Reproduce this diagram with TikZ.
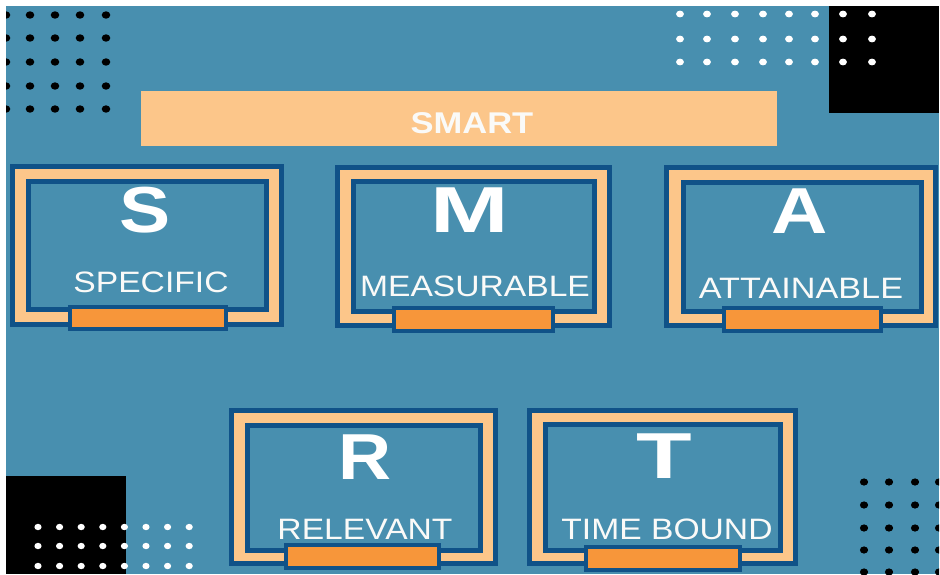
\documentclass[tikz,border=0pt]{standalone}
\usepackage{graphicx}
\usepackage{fontspec}
\setmainfont{Liberation Sans}
\definecolor{bgblue}{RGB}{72,143,175}
\definecolor{darkblue}{RGB}{16,82,136}
\definecolor{peach}{RGB}{252,198,138}
\definecolor{tabfill}{RGB}{247,150,58}
\definecolor{softwhite}{RGB}{250,250,248}
\newcommand\widen[2]{\scalebox{#1}[1]{#2}}
\tikzset{
  outerframe/.style={draw=darkblue, line width=5pt, fill=peach},
  innerframe/.style={draw=darkblue, line width=5pt, fill=bgblue},
  tabbar/.style={draw=darkblue, line width=4.5pt, fill=tabfill},
  bigletter/.style={text=white, inner sep=0pt, font=\fontsize{65}{65}\selectfont\bfseries},
  cardlabel/.style={text=softwhite, inner sep=0pt, font=\fontsize{29.5}{29.5}\selectfont},
  titletext/.style={text=softwhite, inner sep=0pt, font=\fontsize{30}{30}\selectfont\bfseries},
  blackdot/.style={fill=black},
  whitedot/.style={fill=white}
}
\begin{document}
\begin{tikzpicture}[x=1pt,y=-1pt]
\useasboundingbox (0,0) rectangle (940,574);
\fill[white] (0,0) rectangle (940,574);
\fill[bgblue] (6,6) rectangle (939,574);
\begin{scope}
  \clip (6,6) rectangle (939,574);
  % black squares
  \fill[black] (829,6) rectangle (939,113);
  \fill[black] (6,476) rectangle (126,574);
  % top-left black dots
  \foreach \x in {6,30,55,80,106}
    \foreach \y in {15,38,62,86,109}
      \fill[blackdot] (\x,\y) ellipse [x radius=4.3, y radius=3.7];
  % top-right white dots
  \foreach \x in {680,707,735,763,789,815,843,872}
    \foreach \y in {14,39,62}
      \fill[whitedot] (\x,\y) ellipse [x radius=3.9, y radius=3.4];
  % bottom-left white dots
  \foreach \i in {0,...,7}
    \foreach \y in {527,546,566}
      \fill[whitedot] ({38+21.6*\i},\y) ellipse [x radius=3.6, y radius=3.2];
  % bottom-right black dots
  \foreach \x in {864,889,915,939}
    \foreach \y in {482,505,528,550,572}
      \fill[blackdot] (\x,\y) ellipse [x radius=4.1, y radius=3.6];
\end{scope}

% title bar
\fill[peach] (141,91) rectangle (777,146);
\node[titletext] (title) at (472,123) {\widen{1.15}{SMART}};

% S card
\draw[outerframe] (12,166) rectangle (281,324);
\draw[innerframe] (28,181) rectangle (266,309);
\draw[tabbar] (70,307) rectangle (226,329);
\node[bigletter] (s) at (145,210) {\widen{1.18}{S}};
\node[cardlabel] (specific) at (151,282) {\widen{1.14}{SPECIFIC}};

% M card
\draw[outerframe] (337,167) rectangle (609,325);
\draw[innerframe] (353,181) rectangle (594,311);
\draw[tabbar] (394,308) rectangle (553,331);
\node[bigletter] (m) at (470,210) {\widen{1.45}{M}};
\node[cardlabel] (measurable) at (475,286) {\widen{1.14}{MEASURABLE}};

% A card
\draw[outerframe] (666,167) rectangle (935,325);
\draw[innerframe] (683,182) rectangle (921,311);
\draw[tabbar] (724,308) rectangle (881,331);
\node[bigletter] (a) at (800,211) {\widen{1.2}{A}};
\node[cardlabel] (attainable) at (801,288) {\widen{1.16}{ATTAINABLE}};

% R card
\draw[outerframe] (231,410) rectangle (495,563);
\draw[innerframe] (247,425) rectangle (480,550);
\draw[tabbar] (286,545) rectangle (439,568);
\node[bigletter] (r) at (365,457) {\widen{1.13}{R}};
\node[cardlabel] (relevant) at (365,529) {\widen{1.14}{RELEVANT}};

% T card
\draw[outerframe] (529,410) rectangle (795,563);
\draw[innerframe] (545,424) rectangle (780,550);
\draw[tabbar] (586,547) rectangle (740,570);
\node[bigletter] (t) at (664,456) {\widen{1.4}{T}};
\node[cardlabel] (timebound) at (667,529) {\widen{1.14}{TIME BOUND}};
\end{tikzpicture}
\end{document}
